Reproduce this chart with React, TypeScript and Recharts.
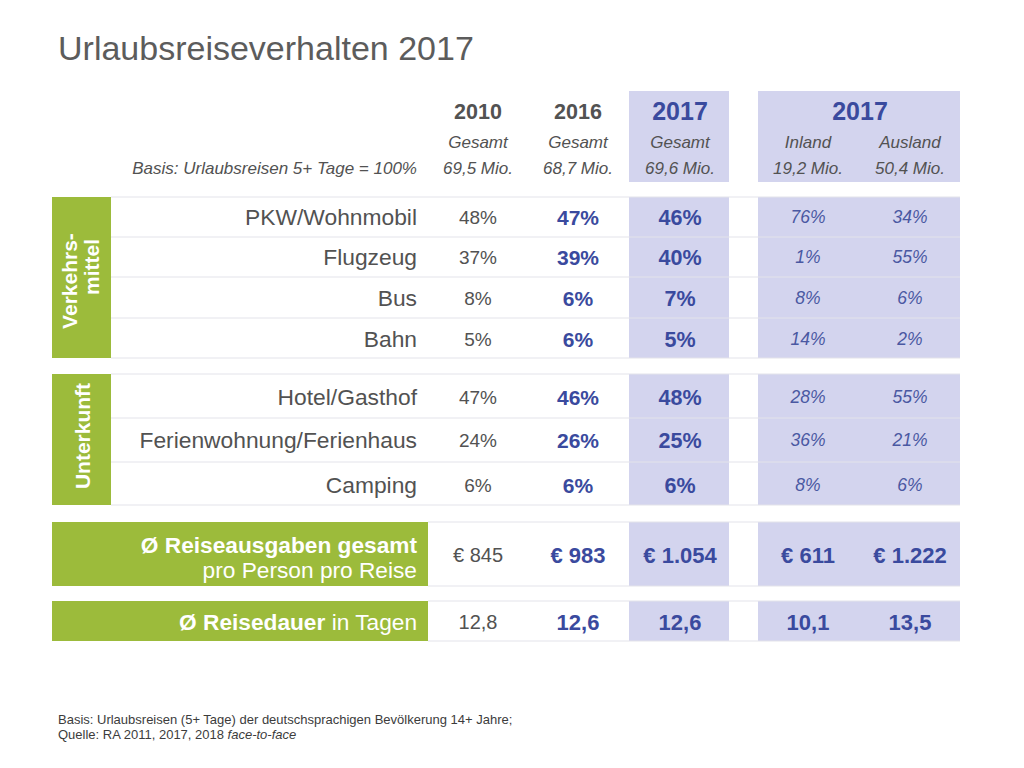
import React from 'react'
import { ComposedChart, XAxis, YAxis, Scatter, ReferenceArea, ReferenceLine } from 'recharts'

// --- data ---
const title = 'Urlaubsreiseverhalten 2017'
const headerYears = ['2010', '2016', '2017']
const splitYear = '2017'
const columnTypes = ['Gesamt', 'Gesamt', 'Gesamt', 'Inland', 'Ausland']
const basisMio = [69.5, 68.7, 69.6, 19.2, 50.4]
const basisLabel = 'Basis: Urlaubsreisen 5+ Tage = 100%'

const verkehrsmittel = ['PKW/Wohnmobil', 'Flugzeug', 'Bus', 'Bahn']
const pkwWohnmobil = [48, 47, 46, 76, 34]
const flugzeug = [37, 39, 40, 1, 55]
const bus = [8, 6, 7, 8, 6]
const bahn = [5, 6, 5, 14, 2]

const unterkunft = ['Hotel/Gasthof', 'Ferienwohnung/Ferienhaus', 'Camping']
const hotelGasthof = [47, 46, 48, 28, 55]
const ferienwohnung = [24, 26, 25, 36, 21]
const camping = [6, 6, 6, 8, 6]

const reiseausgaben = [845, 983, 1054, 611, 1222]
const reisedauer = [12.8, 12.6, 12.6, 10.1, 13.5]

const footnote1 = 'Basis: Urlaubsreisen (5+ Tage) der deutschsprachigen Bevölkerung 14+ Jahre;'
const footnote2 = 'Quelle: RA 2011, 2017, 2018 '
const footnote2Italic = 'face-to-face'

// --- layout ---
const W = 1024
const H = 768
const FONT = '"Liberation Sans", Arial, Helvetica, sans-serif'
const GREEN = '#9cbb3b'
const LAVENDER = '#d3d4ee'
const BLUE = '#3a4a9e'
const GREY = '#525252'

const colX = [478, 578, 680, 808, 910]
const labelRight = 417
const verkehrRows = [217, 257, 298, 339]
const verkehrBounds = [197, 237, 277, 318, 358]
const unterkunftRows = [397, 440, 485]
const unterkunftBounds = [374, 418, 462, 505]
const bands = [[91, 182], [197, 358], [374, 505], [522, 586], [601, 641]]

const styles: Record<string, { size: number; weight: number; italic?: boolean; fill: string }> = {
  title: { size: 34, weight: 400, fill: '#5c5c5c' },
  year: { size: 21.5, weight: 700, fill: GREY },
  year17: { size: 25, weight: 700, fill: BLUE },
  sub: { size: 17, weight: 400, italic: true, fill: GREY },
  rowLabel: { size: 22.8, weight: 400, fill: GREY },
  plain: { size: 19, weight: 400, fill: GREY },
  bold: { size: 21, weight: 700, fill: BLUE },
  bold17: { size: 21.5, weight: 700, fill: BLUE },
  italic: { size: 17.5, weight: 400, italic: true, fill: '#4a58a2' },
  plainL: { size: 20, weight: 400, fill: GREY },
  boldL: { size: 22, weight: 700, fill: BLUE },
  green: { size: 21, weight: 700, fill: '#ffffff' },
  greenB: { size: 22.7, weight: 700, fill: '#ffffff' },
  greenR: { size: 22.7, weight: 400, fill: '#ffffff' },
  foot: { size: 13, weight: 400, fill: '#3c3c3c' },
}

const pct = (v: number) => `${v}%`
const euro = (v: number) => `€ ${String(v).replace(/\B(?=(\d{3})+(?!\d))/g, '.')}`
const dec = (v: number) => v.toFixed(1).replace('.', ',')

type Txt = { x: number; y: number; text: string; st: string; anchor?: 'start' | 'middle' | 'end'; rotate?: boolean }

const texts: Txt[] = []
texts.push({ x: 58, y: 48, text: title, st: 'title', anchor: 'start' })
headerYears.forEach((y, i) => texts.push({ x: colX[i], y: 111, text: y, st: i === 2 ? 'year17' : 'year' }))
texts.push({ x: (colX[3] + colX[4]) / 2 + 1, y: 111, text: splitYear, st: 'year17' })
columnTypes.forEach((t, i) => texts.push({ x: colX[i], y: 142, text: t, st: 'sub' }))
basisMio.forEach((v, i) => texts.push({ x: colX[i], y: 168, text: `${dec(v)} Mio.`, st: 'sub' }))
texts.push({ x: labelRight, y: 168, text: basisLabel, st: 'sub', anchor: 'end' })

const pctStyles = ['plain', 'bold', 'bold17', 'italic', 'italic']
const addRow = (label: string, values: string[], y: number, st: string[]) => {
  texts.push({ x: labelRight, y, text: label, st: 'rowLabel', anchor: 'end' })
  values.forEach((v, i) => texts.push({ x: colX[i], y, text: v, st: st[i] }))
}
;[pkwWohnmobil, flugzeug, bus, bahn].forEach((row, r) =>
  addRow(verkehrsmittel[r], row.map(pct), verkehrRows[r], pctStyles))
;[hotelGasthof, ferienwohnung, camping].forEach((row, r) =>
  addRow(unterkunft[r], row.map(pct), unterkunftRows[r], pctStyles))

const bigStyles = ['plainL', 'boldL', 'boldL', 'boldL', 'boldL']
reiseausgaben.forEach((v, i) => texts.push({ x: colX[i], y: 555, text: euro(v), st: bigStyles[i] }))
reisedauer.forEach((v, i) => texts.push({ x: colX[i], y: 622, text: dec(v), st: bigStyles[i] }))

const greenTexts: Txt[] = [
  { x: 69, y: 281, text: 'Verkehrs-', st: 'green', rotate: true },
  { x: 91, y: 267, text: 'mittel', st: 'green', rotate: true },
  { x: 82, y: 436, text: 'Unterkunft', st: 'green', rotate: true },
  { x: labelRight, y: 545, text: 'Ø Reiseausgaben gesamt', st: 'greenB', anchor: 'end' },
  { x: labelRight, y: 570, text: 'pro Person pro Reise', st: 'greenR', anchor: 'end' },
]
const footTexts: Txt[] = [
  { x: 58, y: 719, text: footnote1, st: 'foot', anchor: 'start' },
]

function TextShape(props: any) {
  const { cx, cy, payload } = props
  const s = styles[payload.st]
  return (
    <text
      x={cx}
      y={cy}
      dy="0.36em"
      textAnchor={payload.anchor ?? 'middle'}
      fontFamily={FONT}
      fontSize={s.size}
      fontWeight={s.weight}
      fontStyle={s.italic ? 'italic' : 'normal'}
      fill={s.fill}
      transform={payload.rotate ? `rotate(-90 ${cx} ${cy})` : undefined}
    >
      {payload.text}
    </text>
  )
}

// mixed bold/regular line and italic source line
function MixedShape(props: any) {
  const { cx, cy, payload } = props
  return (
    <text x={cx} y={cy} dy="0.36em" textAnchor={payload.anchor} fontFamily={FONT} fill={payload.fill} fontSize={payload.size}>
      <tspan fontWeight={payload.firstWeight} fontStyle={payload.firstItalic ? 'italic' : 'normal'}>{payload.first}</tspan>
      <tspan fontWeight={payload.secondWeight} fontStyle={payload.secondItalic ? 'italic' : 'normal'}>{payload.second}</tspan>
    </text>
  )
}

const mixedTexts = [
  { x: labelRight, y: 622, anchor: 'end', fill: '#ffffff', size: 22.7, first: 'Ø Reisedauer', firstWeight: 700, second: ' in Tagen', secondWeight: 400 },
  { x: 58, y: 734, anchor: 'start', fill: '#3c3c3c', size: 13, first: footnote2, firstWeight: 400, second: footnote2Italic, secondWeight: 400, secondItalic: true },
]

export default function App() {
  return (
    <div style={{ position: 'absolute', left: 0, top: 0, width: W, height: H, background: '#fff' }}>
      <ComposedChart width={W} height={H} margin={{ top: 0, right: 0, bottom: 0, left: 0 }}>
        <XAxis type="number" dataKey="x" domain={[0, W]} hide allowDataOverflow />
        <YAxis type="number" dataKey="y" domain={[0, H]} reversed hide allowDataOverflow />

        {bands.map(([y1, y2], i) => (
          <React.Fragment key={`lav${i}`}>
            <ReferenceArea x1={629} x2={729} y1={y1} y2={y2} fill={LAVENDER} fillOpacity={1} stroke="none" />
            <ReferenceArea x1={758} x2={960} y1={y1} y2={y2} fill={LAVENDER} fillOpacity={1} stroke="none" />
          </React.Fragment>
        ))}
        <ReferenceArea x1={52} x2={111} y1={197} y2={358} fill={GREEN} fillOpacity={1} stroke="none" />
        <ReferenceArea x1={52} x2={111} y1={374} y2={505} fill={GREEN} fillOpacity={1} stroke="none" />
        <ReferenceArea x1={52} x2={428} y1={522} y2={586} fill={GREEN} fillOpacity={1} stroke="none" />
        <ReferenceArea x1={52} x2={428} y1={601} y2={641} fill={GREEN} fillOpacity={1} stroke="none" />

        {[...verkehrBounds, ...unterkunftBounds].map((y) => (
          <ReferenceLine key={`l${y}`} segment={[{ x: 111, y }, { x: 960, y }]} stroke="#e3e3ea" strokeWidth={1} />
        ))}
        {[522, 586, 601, 641].map((y) => (
          <ReferenceLine key={`e${y}`} segment={[{ x: 428, y }, { x: 960, y }]} stroke="#e3e3ea" strokeWidth={1} />
        ))}

        <Scatter data={texts} shape={TextShape} isAnimationActive={false} legendType="none" />
        <Scatter data={greenTexts} shape={TextShape} isAnimationActive={false} legendType="none" />
        <Scatter data={footTexts} shape={TextShape} isAnimationActive={false} legendType="none" />
        <Scatter data={mixedTexts} shape={MixedShape} isAnimationActive={false} legendType="none" />
      </ComposedChart>
    </div>
  )
}
